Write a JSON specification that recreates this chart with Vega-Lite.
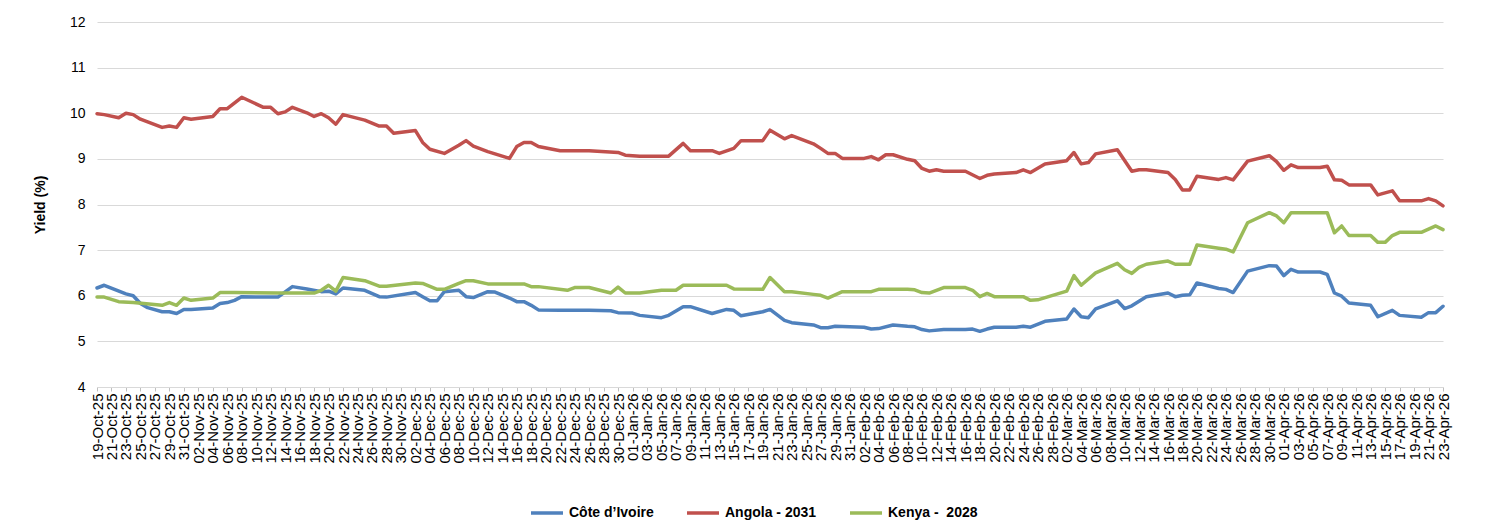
{
  "$schema": "https://vega.github.io/schema/vega-lite/v6.json",
  "width": 1346,
  "height": 365,
  "autosize": {"type": "none"},
  "padding": {"left": 97, "top": 22, "right": 45, "bottom": 144},
  "background": "white",
  "config": {"font": "Liberation Sans", "view": {"stroke": null}},
  "data": {"values": [
    {"date": "2025-10-19", "series": "Côte d’Ivoire", "yield": 6.17},
    {"date": "2025-10-20", "series": "Côte d’Ivoire", "yield": 6.23},
    {"date": "2025-10-23", "series": "Côte d’Ivoire", "yield": 6.04},
    {"date": "2025-10-24", "series": "Côte d’Ivoire", "yield": 6.00},
    {"date": "2025-10-25", "series": "Côte d’Ivoire", "yield": 5.83},
    {"date": "2025-10-26", "series": "Côte d’Ivoire", "yield": 5.74},
    {"date": "2025-10-28", "series": "Côte d’Ivoire", "yield": 5.65},
    {"date": "2025-10-29", "series": "Côte d’Ivoire", "yield": 5.65},
    {"date": "2025-10-30", "series": "Côte d’Ivoire", "yield": 5.61},
    {"date": "2025-10-31", "series": "Côte d’Ivoire", "yield": 5.70},
    {"date": "2025-11-01", "series": "Côte d’Ivoire", "yield": 5.70},
    {"date": "2025-11-04", "series": "Côte d’Ivoire", "yield": 5.73},
    {"date": "2025-11-05", "series": "Côte d’Ivoire", "yield": 5.83},
    {"date": "2025-11-06", "series": "Côte d’Ivoire", "yield": 5.85},
    {"date": "2025-11-07", "series": "Côte d’Ivoire", "yield": 5.90},
    {"date": "2025-11-08", "series": "Côte d’Ivoire", "yield": 5.98},
    {"date": "2025-11-11", "series": "Côte d’Ivoire", "yield": 5.97},
    {"date": "2025-11-13", "series": "Côte d’Ivoire", "yield": 5.97},
    {"date": "2025-11-15", "series": "Côte d’Ivoire", "yield": 6.20},
    {"date": "2025-11-17", "series": "Côte d’Ivoire", "yield": 6.15},
    {"date": "2025-11-19", "series": "Côte d’Ivoire", "yield": 6.09},
    {"date": "2025-11-20", "series": "Côte d’Ivoire", "yield": 6.10},
    {"date": "2025-11-21", "series": "Côte d’Ivoire", "yield": 6.04},
    {"date": "2025-11-22", "series": "Côte d’Ivoire", "yield": 6.17},
    {"date": "2025-11-25", "series": "Côte d’Ivoire", "yield": 6.12},
    {"date": "2025-11-27", "series": "Côte d’Ivoire", "yield": 5.98},
    {"date": "2025-11-28", "series": "Côte d’Ivoire", "yield": 5.97},
    {"date": "2025-12-02", "series": "Côte d’Ivoire", "yield": 6.07},
    {"date": "2025-12-03", "series": "Côte d’Ivoire", "yield": 5.98},
    {"date": "2025-12-04", "series": "Côte d’Ivoire", "yield": 5.89},
    {"date": "2025-12-05", "series": "Côte d’Ivoire", "yield": 5.89},
    {"date": "2025-12-06", "series": "Côte d’Ivoire", "yield": 6.09},
    {"date": "2025-12-08", "series": "Côte d’Ivoire", "yield": 6.12},
    {"date": "2025-12-09", "series": "Côte d’Ivoire", "yield": 5.98},
    {"date": "2025-12-10", "series": "Côte d’Ivoire", "yield": 5.96},
    {"date": "2025-12-12", "series": "Côte d’Ivoire", "yield": 6.09},
    {"date": "2025-12-13", "series": "Côte d’Ivoire", "yield": 6.08},
    {"date": "2025-12-15", "series": "Côte d’Ivoire", "yield": 5.95},
    {"date": "2025-12-16", "series": "Côte d’Ivoire", "yield": 5.87},
    {"date": "2025-12-17", "series": "Côte d’Ivoire", "yield": 5.87},
    {"date": "2025-12-18", "series": "Côte d’Ivoire", "yield": 5.79},
    {"date": "2025-12-19", "series": "Côte d’Ivoire", "yield": 5.69},
    {"date": "2025-12-22", "series": "Côte d’Ivoire", "yield": 5.68},
    {"date": "2025-12-26", "series": "Côte d’Ivoire", "yield": 5.68},
    {"date": "2025-12-29", "series": "Côte d’Ivoire", "yield": 5.67},
    {"date": "2025-12-30", "series": "Côte d’Ivoire", "yield": 5.63},
    {"date": "2026-01-01", "series": "Côte d’Ivoire", "yield": 5.62},
    {"date": "2026-01-02", "series": "Côte d’Ivoire", "yield": 5.57},
    {"date": "2026-01-05", "series": "Côte d’Ivoire", "yield": 5.52},
    {"date": "2026-01-06", "series": "Côte d’Ivoire", "yield": 5.57},
    {"date": "2026-01-08", "series": "Côte d’Ivoire", "yield": 5.76},
    {"date": "2026-01-09", "series": "Côte d’Ivoire", "yield": 5.76},
    {"date": "2026-01-12", "series": "Côte d’Ivoire", "yield": 5.61},
    {"date": "2026-01-14", "series": "Côte d’Ivoire", "yield": 5.70},
    {"date": "2026-01-15", "series": "Côte d’Ivoire", "yield": 5.68},
    {"date": "2026-01-16", "series": "Côte d’Ivoire", "yield": 5.56},
    {"date": "2026-01-19", "series": "Côte d’Ivoire", "yield": 5.65},
    {"date": "2026-01-20", "series": "Côte d’Ivoire", "yield": 5.70},
    {"date": "2026-01-22", "series": "Côte d’Ivoire", "yield": 5.46},
    {"date": "2026-01-23", "series": "Côte d’Ivoire", "yield": 5.41},
    {"date": "2026-01-26", "series": "Côte d’Ivoire", "yield": 5.36},
    {"date": "2026-01-27", "series": "Côte d’Ivoire", "yield": 5.30},
    {"date": "2026-01-28", "series": "Côte d’Ivoire", "yield": 5.30},
    {"date": "2026-01-29", "series": "Côte d’Ivoire", "yield": 5.33},
    {"date": "2026-02-02", "series": "Côte d’Ivoire", "yield": 5.31},
    {"date": "2026-02-03", "series": "Côte d’Ivoire", "yield": 5.27},
    {"date": "2026-02-04", "series": "Côte d’Ivoire", "yield": 5.28},
    {"date": "2026-02-06", "series": "Côte d’Ivoire", "yield": 5.36},
    {"date": "2026-02-08", "series": "Côte d’Ivoire", "yield": 5.33},
    {"date": "2026-02-09", "series": "Côte d’Ivoire", "yield": 5.32},
    {"date": "2026-02-10", "series": "Côte d’Ivoire", "yield": 5.26},
    {"date": "2026-02-11", "series": "Côte d’Ivoire", "yield": 5.23},
    {"date": "2026-02-13", "series": "Côte d’Ivoire", "yield": 5.26},
    {"date": "2026-02-16", "series": "Côte d’Ivoire", "yield": 5.26},
    {"date": "2026-02-17", "series": "Côte d’Ivoire", "yield": 5.27},
    {"date": "2026-02-18", "series": "Côte d’Ivoire", "yield": 5.22},
    {"date": "2026-02-19", "series": "Côte d’Ivoire", "yield": 5.27},
    {"date": "2026-02-20", "series": "Côte d’Ivoire", "yield": 5.31},
    {"date": "2026-02-23", "series": "Côte d’Ivoire", "yield": 5.31},
    {"date": "2026-02-24", "series": "Côte d’Ivoire", "yield": 5.33},
    {"date": "2026-02-25", "series": "Côte d’Ivoire", "yield": 5.31},
    {"date": "2026-02-27", "series": "Côte d’Ivoire", "yield": 5.44},
    {"date": "2026-03-02", "series": "Côte d’Ivoire", "yield": 5.49},
    {"date": "2026-03-03", "series": "Côte d’Ivoire", "yield": 5.71},
    {"date": "2026-03-04", "series": "Côte d’Ivoire", "yield": 5.54},
    {"date": "2026-03-05", "series": "Côte d’Ivoire", "yield": 5.52},
    {"date": "2026-03-06", "series": "Côte d’Ivoire", "yield": 5.71},
    {"date": "2026-03-09", "series": "Côte d’Ivoire", "yield": 5.89},
    {"date": "2026-03-10", "series": "Côte d’Ivoire", "yield": 5.72},
    {"date": "2026-03-11", "series": "Côte d’Ivoire", "yield": 5.78},
    {"date": "2026-03-13", "series": "Côte d’Ivoire", "yield": 5.98},
    {"date": "2026-03-16", "series": "Côte d’Ivoire", "yield": 6.06},
    {"date": "2026-03-17", "series": "Côte d’Ivoire", "yield": 5.98},
    {"date": "2026-03-18", "series": "Côte d’Ivoire", "yield": 6.01},
    {"date": "2026-03-19", "series": "Côte d’Ivoire", "yield": 6.02},
    {"date": "2026-03-20", "series": "Côte d’Ivoire", "yield": 6.28},
    {"date": "2026-03-23", "series": "Côte d’Ivoire", "yield": 6.16},
    {"date": "2026-03-24", "series": "Côte d’Ivoire", "yield": 6.14},
    {"date": "2026-03-25", "series": "Côte d’Ivoire", "yield": 6.07},
    {"date": "2026-03-27", "series": "Côte d’Ivoire", "yield": 6.54},
    {"date": "2026-03-30", "series": "Côte d’Ivoire", "yield": 6.66},
    {"date": "2026-03-31", "series": "Côte d’Ivoire", "yield": 6.65},
    {"date": "2026-04-01", "series": "Côte d’Ivoire", "yield": 6.44},
    {"date": "2026-04-02", "series": "Côte d’Ivoire", "yield": 6.58},
    {"date": "2026-04-03", "series": "Côte d’Ivoire", "yield": 6.52},
    {"date": "2026-04-06", "series": "Côte d’Ivoire", "yield": 6.52},
    {"date": "2026-04-07", "series": "Côte d’Ivoire", "yield": 6.47},
    {"date": "2026-04-08", "series": "Côte d’Ivoire", "yield": 6.06},
    {"date": "2026-04-09", "series": "Côte d’Ivoire", "yield": 5.99},
    {"date": "2026-04-10", "series": "Côte d’Ivoire", "yield": 5.84},
    {"date": "2026-04-13", "series": "Côte d’Ivoire", "yield": 5.79},
    {"date": "2026-04-14", "series": "Côte d’Ivoire", "yield": 5.54},
    {"date": "2026-04-16", "series": "Côte d’Ivoire", "yield": 5.68},
    {"date": "2026-04-17", "series": "Côte d’Ivoire", "yield": 5.57},
    {"date": "2026-04-20", "series": "Côte d’Ivoire", "yield": 5.53},
    {"date": "2026-04-21", "series": "Côte d’Ivoire", "yield": 5.63},
    {"date": "2026-04-22", "series": "Côte d’Ivoire", "yield": 5.63},
    {"date": "2026-04-23", "series": "Côte d’Ivoire", "yield": 5.77},

    {"date": "2025-10-19", "series": "Angola - 2031", "yield": 9.99},
    {"date": "2025-10-20", "series": "Angola - 2031", "yield": 9.97},
    {"date": "2025-10-22", "series": "Angola - 2031", "yield": 9.90},
    {"date": "2025-10-23", "series": "Angola - 2031", "yield": 10.00},
    {"date": "2025-10-24", "series": "Angola - 2031", "yield": 9.97},
    {"date": "2025-10-25", "series": "Angola - 2031", "yield": 9.87},
    {"date": "2025-10-28", "series": "Angola - 2031", "yield": 9.69},
    {"date": "2025-10-29", "series": "Angola - 2031", "yield": 9.72},
    {"date": "2025-10-30", "series": "Angola - 2031", "yield": 9.69},
    {"date": "2025-10-31", "series": "Angola - 2031", "yield": 9.90},
    {"date": "2025-11-01", "series": "Angola - 2031", "yield": 9.87},
    {"date": "2025-11-04", "series": "Angola - 2031", "yield": 9.93},
    {"date": "2025-11-05", "series": "Angola - 2031", "yield": 10.10},
    {"date": "2025-11-06", "series": "Angola - 2031", "yield": 10.10},
    {"date": "2025-11-08", "series": "Angola - 2031", "yield": 10.35},
    {"date": "2025-11-11", "series": "Angola - 2031", "yield": 10.13},
    {"date": "2025-11-12", "series": "Angola - 2031", "yield": 10.13},
    {"date": "2025-11-13", "series": "Angola - 2031", "yield": 9.99},
    {"date": "2025-11-14", "series": "Angola - 2031", "yield": 10.03},
    {"date": "2025-11-15", "series": "Angola - 2031", "yield": 10.13},
    {"date": "2025-11-17", "series": "Angola - 2031", "yield": 10.01},
    {"date": "2025-11-18", "series": "Angola - 2031", "yield": 9.93},
    {"date": "2025-11-19", "series": "Angola - 2031", "yield": 9.99},
    {"date": "2025-11-20", "series": "Angola - 2031", "yield": 9.90},
    {"date": "2025-11-21", "series": "Angola - 2031", "yield": 9.76},
    {"date": "2025-11-22", "series": "Angola - 2031", "yield": 9.97},
    {"date": "2025-11-25", "series": "Angola - 2031", "yield": 9.85},
    {"date": "2025-11-27", "series": "Angola - 2031", "yield": 9.72},
    {"date": "2025-11-28", "series": "Angola - 2031", "yield": 9.72},
    {"date": "2025-11-29", "series": "Angola - 2031", "yield": 9.56},
    {"date": "2025-12-02", "series": "Angola - 2031", "yield": 9.62},
    {"date": "2025-12-03", "series": "Angola - 2031", "yield": 9.36},
    {"date": "2025-12-04", "series": "Angola - 2031", "yield": 9.21},
    {"date": "2025-12-06", "series": "Angola - 2031", "yield": 9.12},
    {"date": "2025-12-08", "series": "Angola - 2031", "yield": 9.30},
    {"date": "2025-12-09", "series": "Angola - 2031", "yield": 9.40},
    {"date": "2025-12-10", "series": "Angola - 2031", "yield": 9.28},
    {"date": "2025-12-12", "series": "Angola - 2031", "yield": 9.16},
    {"date": "2025-12-13", "series": "Angola - 2031", "yield": 9.11},
    {"date": "2025-12-15", "series": "Angola - 2031", "yield": 9.01},
    {"date": "2025-12-16", "series": "Angola - 2031", "yield": 9.27},
    {"date": "2025-12-17", "series": "Angola - 2031", "yield": 9.36},
    {"date": "2025-12-18", "series": "Angola - 2031", "yield": 9.36},
    {"date": "2025-12-19", "series": "Angola - 2031", "yield": 9.27},
    {"date": "2025-12-22", "series": "Angola - 2031", "yield": 9.18},
    {"date": "2025-12-26", "series": "Angola - 2031", "yield": 9.18},
    {"date": "2025-12-30", "series": "Angola - 2031", "yield": 9.14},
    {"date": "2025-12-31", "series": "Angola - 2031", "yield": 9.08},
    {"date": "2026-01-01", "series": "Angola - 2031", "yield": 9.07},
    {"date": "2026-01-02", "series": "Angola - 2031", "yield": 9.06},
    {"date": "2026-01-06", "series": "Angola - 2031", "yield": 9.06},
    {"date": "2026-01-08", "series": "Angola - 2031", "yield": 9.34},
    {"date": "2026-01-09", "series": "Angola - 2031", "yield": 9.18},
    {"date": "2026-01-12", "series": "Angola - 2031", "yield": 9.18},
    {"date": "2026-01-13", "series": "Angola - 2031", "yield": 9.12},
    {"date": "2026-01-15", "series": "Angola - 2031", "yield": 9.23},
    {"date": "2026-01-16", "series": "Angola - 2031", "yield": 9.40},
    {"date": "2026-01-19", "series": "Angola - 2031", "yield": 9.40},
    {"date": "2026-01-20", "series": "Angola - 2031", "yield": 9.63},
    {"date": "2026-01-22", "series": "Angola - 2031", "yield": 9.44},
    {"date": "2026-01-23", "series": "Angola - 2031", "yield": 9.51},
    {"date": "2026-01-26", "series": "Angola - 2031", "yield": 9.33},
    {"date": "2026-01-27", "series": "Angola - 2031", "yield": 9.23},
    {"date": "2026-01-28", "series": "Angola - 2031", "yield": 9.12},
    {"date": "2026-01-29", "series": "Angola - 2031", "yield": 9.12},
    {"date": "2026-01-30", "series": "Angola - 2031", "yield": 9.01},
    {"date": "2026-02-02", "series": "Angola - 2031", "yield": 9.01},
    {"date": "2026-02-03", "series": "Angola - 2031", "yield": 9.05},
    {"date": "2026-02-04", "series": "Angola - 2031", "yield": 8.98},
    {"date": "2026-02-05", "series": "Angola - 2031", "yield": 9.09},
    {"date": "2026-02-06", "series": "Angola - 2031", "yield": 9.09},
    {"date": "2026-02-08", "series": "Angola - 2031", "yield": 8.99},
    {"date": "2026-02-09", "series": "Angola - 2031", "yield": 8.96},
    {"date": "2026-02-10", "series": "Angola - 2031", "yield": 8.79},
    {"date": "2026-02-11", "series": "Angola - 2031", "yield": 8.73},
    {"date": "2026-02-12", "series": "Angola - 2031", "yield": 8.76},
    {"date": "2026-02-13", "series": "Angola - 2031", "yield": 8.73},
    {"date": "2026-02-16", "series": "Angola - 2031", "yield": 8.73},
    {"date": "2026-02-18", "series": "Angola - 2031", "yield": 8.57},
    {"date": "2026-02-19", "series": "Angola - 2031", "yield": 8.64},
    {"date": "2026-02-20", "series": "Angola - 2031", "yield": 8.67},
    {"date": "2026-02-23", "series": "Angola - 2031", "yield": 8.70},
    {"date": "2026-02-24", "series": "Angola - 2031", "yield": 8.76},
    {"date": "2026-02-25", "series": "Angola - 2031", "yield": 8.70},
    {"date": "2026-02-27", "series": "Angola - 2031", "yield": 8.89},
    {"date": "2026-03-02", "series": "Angola - 2031", "yield": 8.96},
    {"date": "2026-03-03", "series": "Angola - 2031", "yield": 9.14},
    {"date": "2026-03-04", "series": "Angola - 2031", "yield": 8.89},
    {"date": "2026-03-05", "series": "Angola - 2031", "yield": 8.92},
    {"date": "2026-03-06", "series": "Angola - 2031", "yield": 9.11},
    {"date": "2026-03-09", "series": "Angola - 2031", "yield": 9.20},
    {"date": "2026-03-11", "series": "Angola - 2031", "yield": 8.73},
    {"date": "2026-03-12", "series": "Angola - 2031", "yield": 8.76},
    {"date": "2026-03-13", "series": "Angola - 2031", "yield": 8.76},
    {"date": "2026-03-16", "series": "Angola - 2031", "yield": 8.70},
    {"date": "2026-03-17", "series": "Angola - 2031", "yield": 8.55},
    {"date": "2026-03-18", "series": "Angola - 2031", "yield": 8.32},
    {"date": "2026-03-19", "series": "Angola - 2031", "yield": 8.32},
    {"date": "2026-03-20", "series": "Angola - 2031", "yield": 8.62},
    {"date": "2026-03-23", "series": "Angola - 2031", "yield": 8.55},
    {"date": "2026-03-24", "series": "Angola - 2031", "yield": 8.59},
    {"date": "2026-03-25", "series": "Angola - 2031", "yield": 8.54},
    {"date": "2026-03-27", "series": "Angola - 2031", "yield": 8.95},
    {"date": "2026-03-30", "series": "Angola - 2031", "yield": 9.07},
    {"date": "2026-03-31", "series": "Angola - 2031", "yield": 8.94},
    {"date": "2026-04-01", "series": "Angola - 2031", "yield": 8.75},
    {"date": "2026-04-02", "series": "Angola - 2031", "yield": 8.87},
    {"date": "2026-04-03", "series": "Angola - 2031", "yield": 8.81},
    {"date": "2026-04-06", "series": "Angola - 2031", "yield": 8.81},
    {"date": "2026-04-07", "series": "Angola - 2031", "yield": 8.84},
    {"date": "2026-04-08", "series": "Angola - 2031", "yield": 8.54},
    {"date": "2026-04-09", "series": "Angola - 2031", "yield": 8.53},
    {"date": "2026-04-10", "series": "Angola - 2031", "yield": 8.43},
    {"date": "2026-04-13", "series": "Angola - 2031", "yield": 8.43},
    {"date": "2026-04-14", "series": "Angola - 2031", "yield": 8.21},
    {"date": "2026-04-16", "series": "Angola - 2031", "yield": 8.30},
    {"date": "2026-04-17", "series": "Angola - 2031", "yield": 8.08},
    {"date": "2026-04-20", "series": "Angola - 2031", "yield": 8.08},
    {"date": "2026-04-21", "series": "Angola - 2031", "yield": 8.13},
    {"date": "2026-04-22", "series": "Angola - 2031", "yield": 8.08},
    {"date": "2026-04-23", "series": "Angola - 2031", "yield": 7.97},

    {"date": "2025-10-19", "series": "Kenya -  2028", "yield": 5.97},
    {"date": "2025-10-20", "series": "Kenya -  2028", "yield": 5.97},
    {"date": "2025-10-22", "series": "Kenya -  2028", "yield": 5.87},
    {"date": "2025-10-24", "series": "Kenya -  2028", "yield": 5.85},
    {"date": "2025-10-28", "series": "Kenya -  2028", "yield": 5.79},
    {"date": "2025-10-29", "series": "Kenya -  2028", "yield": 5.85},
    {"date": "2025-10-30", "series": "Kenya -  2028", "yield": 5.79},
    {"date": "2025-10-31", "series": "Kenya -  2028", "yield": 5.95},
    {"date": "2025-11-01", "series": "Kenya -  2028", "yield": 5.90},
    {"date": "2025-11-04", "series": "Kenya -  2028", "yield": 5.95},
    {"date": "2025-11-05", "series": "Kenya -  2028", "yield": 6.07},
    {"date": "2025-11-07", "series": "Kenya -  2028", "yield": 6.07},
    {"date": "2025-11-13", "series": "Kenya -  2028", "yield": 6.06},
    {"date": "2025-11-18", "series": "Kenya -  2028", "yield": 6.06},
    {"date": "2025-11-19", "series": "Kenya -  2028", "yield": 6.12},
    {"date": "2025-11-20", "series": "Kenya -  2028", "yield": 6.23},
    {"date": "2025-11-21", "series": "Kenya -  2028", "yield": 6.10},
    {"date": "2025-11-22", "series": "Kenya -  2028", "yield": 6.40},
    {"date": "2025-11-25", "series": "Kenya -  2028", "yield": 6.33},
    {"date": "2025-11-27", "series": "Kenya -  2028", "yield": 6.21},
    {"date": "2025-11-28", "series": "Kenya -  2028", "yield": 6.21},
    {"date": "2025-12-02", "series": "Kenya -  2028", "yield": 6.28},
    {"date": "2025-12-03", "series": "Kenya -  2028", "yield": 6.27},
    {"date": "2025-12-05", "series": "Kenya -  2028", "yield": 6.14},
    {"date": "2025-12-06", "series": "Kenya -  2028", "yield": 6.14},
    {"date": "2025-12-08", "series": "Kenya -  2028", "yield": 6.27},
    {"date": "2025-12-09", "series": "Kenya -  2028", "yield": 6.33},
    {"date": "2025-12-10", "series": "Kenya -  2028", "yield": 6.33},
    {"date": "2025-12-12", "series": "Kenya -  2028", "yield": 6.26},
    {"date": "2025-12-17", "series": "Kenya -  2028", "yield": 6.26},
    {"date": "2025-12-18", "series": "Kenya -  2028", "yield": 6.20},
    {"date": "2025-12-19", "series": "Kenya -  2028", "yield": 6.20},
    {"date": "2025-12-23", "series": "Kenya -  2028", "yield": 6.12},
    {"date": "2025-12-24", "series": "Kenya -  2028", "yield": 6.18},
    {"date": "2025-12-26", "series": "Kenya -  2028", "yield": 6.18},
    {"date": "2025-12-29", "series": "Kenya -  2028", "yield": 6.06},
    {"date": "2025-12-30", "series": "Kenya -  2028", "yield": 6.19},
    {"date": "2025-12-31", "series": "Kenya -  2028", "yield": 6.06},
    {"date": "2026-01-02", "series": "Kenya -  2028", "yield": 6.06},
    {"date": "2026-01-05", "series": "Kenya -  2028", "yield": 6.12},
    {"date": "2026-01-07", "series": "Kenya -  2028", "yield": 6.12},
    {"date": "2026-01-08", "series": "Kenya -  2028", "yield": 6.23},
    {"date": "2026-01-14", "series": "Kenya -  2028", "yield": 6.23},
    {"date": "2026-01-15", "series": "Kenya -  2028", "yield": 6.15},
    {"date": "2026-01-19", "series": "Kenya -  2028", "yield": 6.14},
    {"date": "2026-01-20", "series": "Kenya -  2028", "yield": 6.40},
    {"date": "2026-01-22", "series": "Kenya -  2028", "yield": 6.09},
    {"date": "2026-01-23", "series": "Kenya -  2028", "yield": 6.09},
    {"date": "2026-01-26", "series": "Kenya -  2028", "yield": 6.03},
    {"date": "2026-01-27", "series": "Kenya -  2028", "yield": 6.01},
    {"date": "2026-01-28", "series": "Kenya -  2028", "yield": 5.95},
    {"date": "2026-01-30", "series": "Kenya -  2028", "yield": 6.09},
    {"date": "2026-02-03", "series": "Kenya -  2028", "yield": 6.09},
    {"date": "2026-02-04", "series": "Kenya -  2028", "yield": 6.14},
    {"date": "2026-02-08", "series": "Kenya -  2028", "yield": 6.14},
    {"date": "2026-02-09", "series": "Kenya -  2028", "yield": 6.13},
    {"date": "2026-02-10", "series": "Kenya -  2028", "yield": 6.07},
    {"date": "2026-02-11", "series": "Kenya -  2028", "yield": 6.06},
    {"date": "2026-02-13", "series": "Kenya -  2028", "yield": 6.18},
    {"date": "2026-02-16", "series": "Kenya -  2028", "yield": 6.18},
    {"date": "2026-02-17", "series": "Kenya -  2028", "yield": 6.12},
    {"date": "2026-02-18", "series": "Kenya -  2028", "yield": 5.98},
    {"date": "2026-02-19", "series": "Kenya -  2028", "yield": 6.05},
    {"date": "2026-02-20", "series": "Kenya -  2028", "yield": 5.98},
    {"date": "2026-02-24", "series": "Kenya -  2028", "yield": 5.98},
    {"date": "2026-02-25", "series": "Kenya -  2028", "yield": 5.90},
    {"date": "2026-02-26", "series": "Kenya -  2028", "yield": 5.91},
    {"date": "2026-03-02", "series": "Kenya -  2028", "yield": 6.10},
    {"date": "2026-03-03", "series": "Kenya -  2028", "yield": 6.44},
    {"date": "2026-03-04", "series": "Kenya -  2028", "yield": 6.23},
    {"date": "2026-03-06", "series": "Kenya -  2028", "yield": 6.50},
    {"date": "2026-03-09", "series": "Kenya -  2028", "yield": 6.71},
    {"date": "2026-03-10", "series": "Kenya -  2028", "yield": 6.57},
    {"date": "2026-03-11", "series": "Kenya -  2028", "yield": 6.49},
    {"date": "2026-03-12", "series": "Kenya -  2028", "yield": 6.62},
    {"date": "2026-03-13", "series": "Kenya -  2028", "yield": 6.69},
    {"date": "2026-03-16", "series": "Kenya -  2028", "yield": 6.76},
    {"date": "2026-03-17", "series": "Kenya -  2028", "yield": 6.69},
    {"date": "2026-03-19", "series": "Kenya -  2028", "yield": 6.69},
    {"date": "2026-03-20", "series": "Kenya -  2028", "yield": 7.11},
    {"date": "2026-03-23", "series": "Kenya -  2028", "yield": 7.04},
    {"date": "2026-03-24", "series": "Kenya -  2028", "yield": 7.02},
    {"date": "2026-03-25", "series": "Kenya -  2028", "yield": 6.96},
    {"date": "2026-03-27", "series": "Kenya -  2028", "yield": 7.60},
    {"date": "2026-03-30", "series": "Kenya -  2028", "yield": 7.82},
    {"date": "2026-03-31", "series": "Kenya -  2028", "yield": 7.75},
    {"date": "2026-04-01", "series": "Kenya -  2028", "yield": 7.60},
    {"date": "2026-04-02", "series": "Kenya -  2028", "yield": 7.82},
    {"date": "2026-04-07", "series": "Kenya -  2028", "yield": 7.82},
    {"date": "2026-04-08", "series": "Kenya -  2028", "yield": 7.38},
    {"date": "2026-04-09", "series": "Kenya -  2028", "yield": 7.53},
    {"date": "2026-04-10", "series": "Kenya -  2028", "yield": 7.32},
    {"date": "2026-04-13", "series": "Kenya -  2028", "yield": 7.32},
    {"date": "2026-04-14", "series": "Kenya -  2028", "yield": 7.17},
    {"date": "2026-04-15", "series": "Kenya -  2028", "yield": 7.17},
    {"date": "2026-04-16", "series": "Kenya -  2028", "yield": 7.32},
    {"date": "2026-04-17", "series": "Kenya -  2028", "yield": 7.39},
    {"date": "2026-04-20", "series": "Kenya -  2028", "yield": 7.39},
    {"date": "2026-04-22", "series": "Kenya -  2028", "yield": 7.53},
    {"date": "2026-04-23", "series": "Kenya -  2028", "yield": 7.45}
  ]},
  "mark": {"type": "line", "strokeWidth": 3.5, "strokeJoin": "round", "strokeCap": "round"},
  "encoding": {
    "x": {
      "field": "date",
      "type": "temporal",
      "scale": {"type": "utc", "domain": [1760832000000, 1776902400000]},
      "axis": {
        "title": null,
        "grid": false,
        "values": [1760832000000, 1761004800000, 1761177600000, 1761350400000, 1761523200000, 1761696000000, 1761868800000, 1762041600000, 1762214400000, 1762387200000, 1762560000000, 1762732800000, 1762905600000, 1763078400000, 1763251200000, 1763424000000, 1763596800000, 1763769600000, 1763942400000, 1764115200000, 1764288000000, 1764460800000, 1764633600000, 1764806400000, 1764979200000, 1765152000000, 1765324800000, 1765497600000, 1765670400000, 1765843200000, 1766016000000, 1766188800000, 1766361600000, 1766534400000, 1766707200000, 1766880000000, 1767052800000, 1767225600000, 1767398400000, 1767571200000, 1767744000000, 1767916800000, 1768089600000, 1768262400000, 1768435200000, 1768608000000, 1768780800000, 1768953600000, 1769126400000, 1769299200000, 1769472000000, 1769644800000, 1769817600000, 1769990400000, 1770163200000, 1770336000000, 1770508800000, 1770681600000, 1770854400000, 1771027200000, 1771200000000, 1771372800000, 1771545600000, 1771718400000, 1771891200000, 1772064000000, 1772236800000, 1772409600000, 1772582400000, 1772755200000, 1772928000000, 1773100800000, 1773273600000, 1773446400000, 1773619200000, 1773792000000, 1773964800000, 1774137600000, 1774310400000, 1774483200000, 1774656000000, 1774828800000, 1775001600000, 1775174400000, 1775347200000, 1775520000000, 1775692800000, 1775865600000, 1776038400000, 1776211200000, 1776384000000, 1776556800000, 1776729600000, 1776902400000],
        "labelExpr": "utcFormat(datum.value, '%d-%b-%y')",
        "labelAngle": 270,
        "labelFontSize": 15,
        "labelColor": "#000000",
        "labelOverlap": false,
        "labelFlush": false,
        "labelBound": false,
        "labelPadding": 2,
        "tickSize": 4,
        "tickColor": "#bfbfbf",
        "domainColor": "#d9d9d9"
      }
    },
    "y": {
      "field": "yield",
      "type": "quantitative",
      "scale": {"domain": [4, 12], "nice": false, "zero": false},
      "axis": {
        "values": [4, 5, 6, 7, 8, 9, 10, 11, 12],
        "title": "Yield (%)",
        "titleFontWeight": "bold",
        "titleFontSize": 14,
        "titleColor": "#000000",
        "titlePadding": 22,
        "labelFontSize": 14,
        "labelColor": "#000000",
        "labelPadding": 12,
        "ticks": false,
        "domain": false,
        "gridColor": "#d9d9d9"
      }
    },
    "color": {
      "field": "series",
      "type": "nominal",
      "scale": {"domain": ["Côte d’Ivoire", "Angola - 2031", "Kenya -  2028"], "range": ["#4F81BD", "#C0504D", "#9BBB59"]},
      "legend": {
        "orient": "none",
        "legendX": 432,
        "legendY": 473,
        "direction": "horizontal",
        "title": null,
        "padding": 0,
        "symbolType": "stroke",
        "symbolSize": 1024,
        "symbolStrokeWidth": 3.5,
        "labelFontSize": 14,
        "labelFontWeight": "bold",
        "labelColor": "#000000",
        "labelOffset": 4,
        "columnPadding": 26,
        "labelExpr": "replace(datum.label, '  ', ' \u00a0')"
      }
    }
  }
}
